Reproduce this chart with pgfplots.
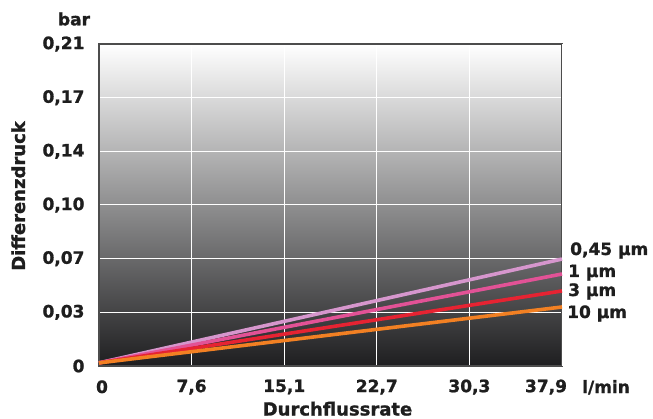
\documentclass[border=0pt]{standalone}
\usepackage{pgfplots}
\pgfplotsset{compat=1.18}
\usepackage{fontspec}
\setmainfont{DejaVu Sans}[BoldFeatures={FakeBold=1.2}]
\definecolor{bgdark}{RGB}{30,30,32}
\definecolor{cA}{RGB}{214,150,205}
\definecolor{cB}{RGB}{226,82,150}
\definecolor{cC}{RGB}{230,35,50}
\definecolor{cD}{RGB}{242,128,35}
\definecolor{txt}{RGB}{30,30,30}
\newcommand\tk{\fontsize{17bp}{20bp}\selectfont\bfseries}
\newcommand\lb{\fontsize{18bp}{21bp}\selectfont\bfseries}
\begin{document}
\begin{tikzpicture}
\useasboundingbox (-99bp,-53bp) rectangle (554bp,366bp);
\begin{axis}[
  scale only axis, width=463bp, height=322bp,
  xmin=0, xmax=37.85, ymin=0, ymax=0.20684,
  xtick={7.57,15.14,22.71,30.28},
  xticklabels={{7,6},{15,1},{22,7},{30,3}},
  extra x ticks={37.85},
  extra x tick labels={37{,}9},
  extra x tick style={xticklabel style={xshift=-16bp}},
  ytick={0,0.03447,0.06895,0.10342,0.1379,0.17237,0.20684},
  yticklabels={0,{0,03},{0,07},{0,10},{0,14},{0,17},{0,21}},
  /pgf/number format/assume math mode=true,
  major tick length=0pt,
  grid=major,
  major grid style={white, line width=1bp},
  axis line style={draw=black!70, line width=1.5bp},
  axis background/.style={top color=white, bottom color=bgdark},
  tick label style={font=\tk, text=txt},
  xticklabel style={yshift=-10bp},
  yticklabel style={xshift=-11bp},
  clip=false,
]
\addplot[cA, line width=3.6bp] coordinates {(0,0.002) (37.85,0.0687)};
\addplot[cB, line width=3.6bp] coordinates {(0,0.002) (37.85,0.0591)};
\addplot[cC, line width=3.6bp] coordinates {(0,0.002) (37.85,0.0482)};
\addplot[cD, line width=3.6bp] coordinates {(0,0.002) (37.85,0.0379)};
\end{axis}
\node[font=\tk, text=txt, anchor=base] at (3bp,-27bp) {0};
\node[font=\tk, text=txt, anchor=center] at (-25bp,347bp) {bar};
\node[font=\tk, text=txt, anchor=base west, inner sep=0] at (483bp,-27bp) {l/min};
\node[font=\lb, text=txt, anchor=base, inner sep=0] at (238.5bp,-49.5bp) {Durchflussrate};
\node[font=\lb, text=txt, anchor=base, inner sep=0, rotate=90] at (-74bp,170bp) {Differenzdruck};
\node[font=\tk, text=txt, anchor=base west, inner sep=0] at (471bp,111bp) {0,45 µm};
\node[font=\tk, text=txt, anchor=base west, inner sep=0] at (469bp,89bp) {1 µm};
\node[font=\tk, text=txt, anchor=base west, inner sep=0] at (469bp,70bp) {3 µm};
\node[font=\tk, text=txt, anchor=base west, inner sep=0] at (468bp,48bp) {10 µm};
\end{tikzpicture}
\end{document}
